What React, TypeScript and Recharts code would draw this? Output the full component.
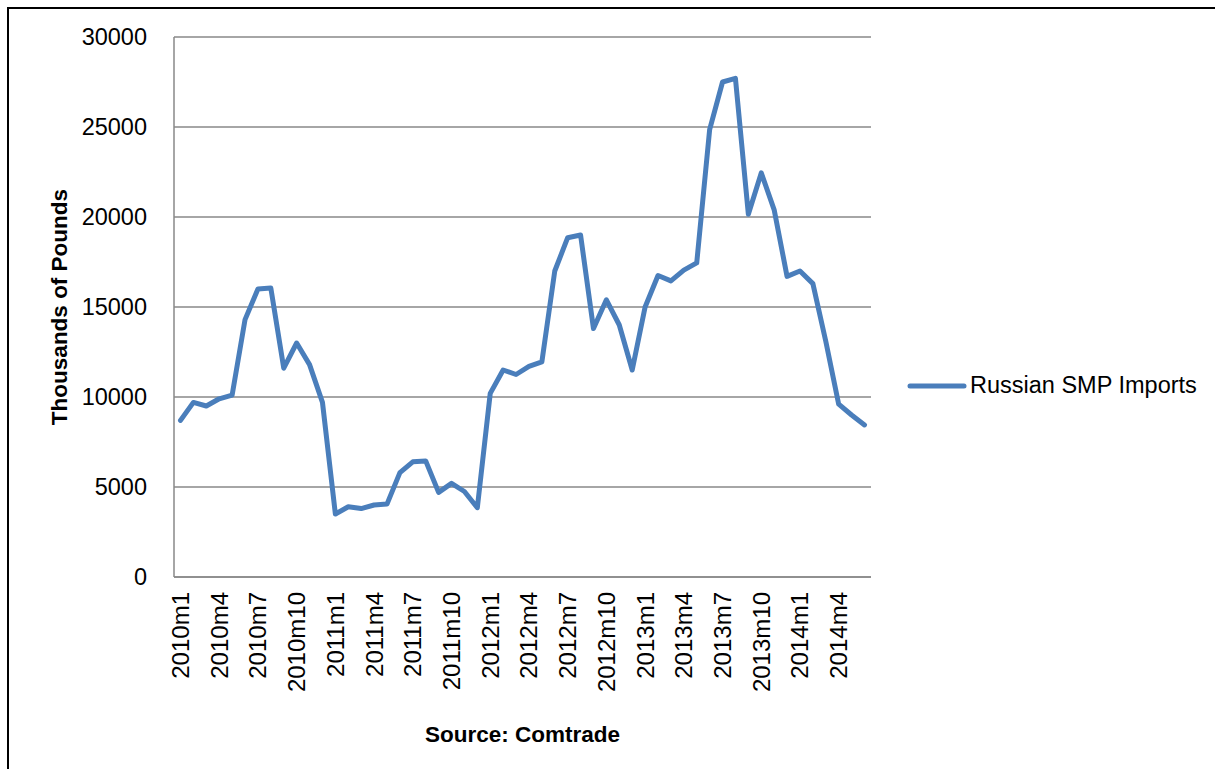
import React from "react";
import {
  LineChart,
  Line,
  XAxis,
  YAxis,
  CartesianGrid,
  Legend,
} from "recharts";

// monthly imports, 2010m1 .. 2014m6 (thousands of pounds)
const years = [2010, 2011, 2012, 2013, 2014];

const months: string[] = years.flatMap((y) =>
  Array.from({ length: 12 }, (_, i) => `${y}m${i + 1}`)
).slice(0, 54);

const imports = [
  8700, 9700, 9500, 9900, 10100, 14300, 16000, 16050, 11600, 13000, 11800, 9700,
  3500, 3900, 3800, 4000, 4050, 5800, 6400, 6450, 4700, 5200, 4750, 3850,
  10200, 11500, 11250, 11700, 11950, 17000, 18850, 19000, 13800, 15400, 14000, 11500,
  15000, 16750, 16450, 17050, 17450, 24850, 27500, 27700, 20150, 22450, 20400, 16700,
  17000, 16300, 13100, 9600, 9000, 8450,
];

const yTicks = [0, 5000, 10000, 15000, 20000, 25000, 30000];

const data = months.map((m, i) => ({ month: m, value: imports[i] }));

const FONT = "'Liberation Sans', Arial, sans-serif";
const LINE_COLOR = "#4a7ebb";
const GRID_COLOR = "#888888";

const MonthTick = (props: any) => {
  const { x, y, payload } = props;
  return (
    <text
      x={x}
      y={y}
      transform={`rotate(-90 ${x} ${y})`}
      textAnchor="end"
      dominantBaseline="central"
      fontFamily={FONT}
      fontSize={24}
      fill="#000"
    >
      {payload.value}
    </text>
  );
};

const LegendContent = () => (
  <div style={{ display: "flex", alignItems: "center", fontFamily: FONT }}>
    <svg width={60} height={10} style={{ display: "block" }}>
      <line
        x1={3}
        y1={5}
        x2={57}
        y2={5}
        stroke={LINE_COLOR}
        strokeWidth={5}
        strokeLinecap="round"
      />
    </svg>
    <span style={{ fontSize: 23.5, color: "#000", marginLeft: 3, whiteSpace: "nowrap" }}>
      Russian SMP Imports
    </span>
  </div>
);

export default function App() {
  return (
    <div
      style={{
        position: "fixed",
        left: 0,
        top: 0,
        width: 1215,
        height: 769,
        overflow: "hidden",
        background: "#fff",
      }}
    >
      <div
        style={{
          position: "absolute",
          left: 7,
          top: 7,
          width: 1300,
          height: 900,
          borderLeft: "2px solid #000",
          borderTop: "2px solid #000",
        }}
      />
      <div style={{ position: "absolute", left: 0, top: 0 }}>
        <LineChart
          width={1215}
          height={769}
          data={data}
          margin={{ top: 37, right: 44, bottom: 0, left: 0 }}
        >
          <CartesianGrid
            vertical={false}
            stroke={GRID_COLOR}
            strokeWidth={1.5}
          />
          <XAxis
            dataKey="month"
            interval={2}
            height={192}
            padding={{ left: 6.5, right: 6.5 }}
            tickSize={0}
            tickMargin={15}
            tick={<MonthTick />}
            axisLine={{ stroke: GRID_COLOR, strokeWidth: 1.5 }}
            tickLine={false}
            label={{
              content: (p: any) => {
                const vb = p.viewBox;
                return (
                  <text
                    x={vb.x + vb.width / 2}
                    y={734}
                    textAnchor="middle"
                    dominantBaseline="central"
                    fontFamily={FONT}
                    fontWeight="bold"
                    fontSize={22.5}
                    fill="#000"
                  >
                    Source: Comtrade
                  </text>
                );
              },
            }}
          />
          <YAxis
            width={174}
            domain={[0, 30000]}
            ticks={yTicks}
            interval={0}
            tickSize={0}
            tickMargin={27}
            tick={{ fontFamily: FONT, fontSize: 23.5, fill: "#000" }}
            axisLine={{ stroke: GRID_COLOR, strokeWidth: 1.5 }}
            tickLine={false}
            label={{
              content: () => (
                <text
                  x={59}
                  y={307}
                  transform="rotate(-90 59 307)"
                  textAnchor="middle"
                  dominantBaseline="central"
                  fontFamily={FONT}
                  fontWeight="bold"
                  fontSize={22.5}
                  fill="#000"
                >
                  Thousands of Pounds
                </text>
              ),
            }}
          />
          <Legend
            layout="vertical"
            align="right"
            verticalAlign="middle"
            width={300}
            content={<LegendContent />}
            wrapperStyle={{ left: 907, top: 372, width: 300 }}
          />
          <Line
            type="linear"
            dataKey="value"
            name="Russian SMP Imports"
            stroke={LINE_COLOR}
            strokeWidth={5}
            strokeLinejoin="round"
            strokeLinecap="round"
            dot={false}
            activeDot={false}
            isAnimationActive={false}
          />
        </LineChart>
      </div>
    </div>
  );
}
